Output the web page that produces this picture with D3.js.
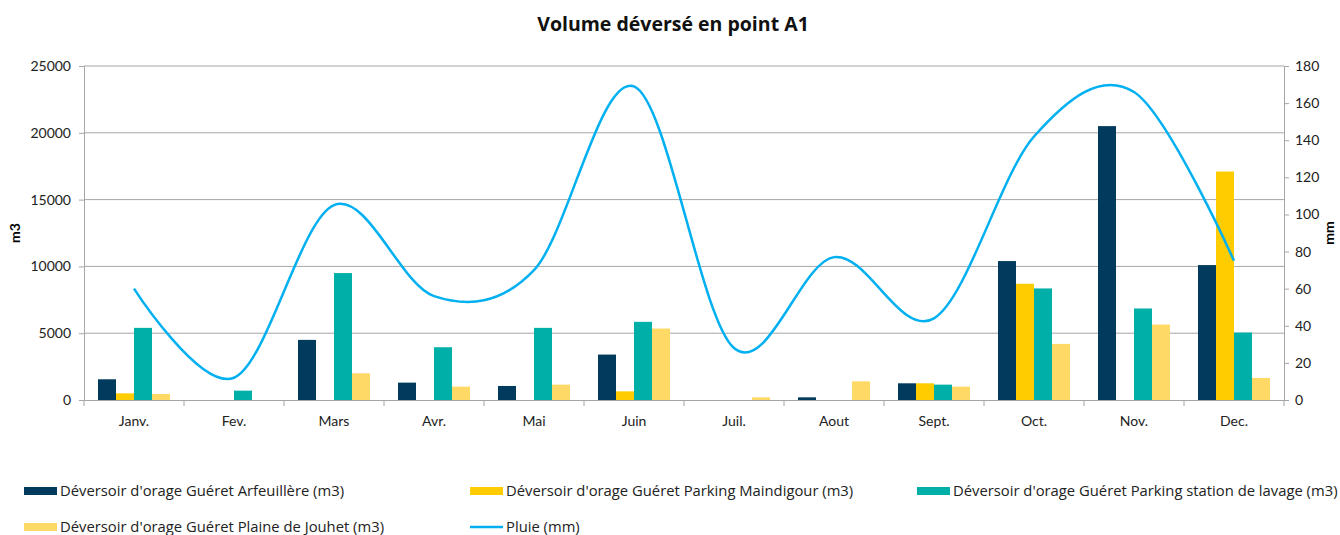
<!DOCTYPE html>
<html>
<head>
<meta charset="utf-8">
<script src="https://cdn.jsdelivr.net/npm/d3@7"></script>
<style>
  body { margin: 0; background: #fff; }
  svg { font-family: Lato, "Open Sans", sans-serif; }
</style>
</head>
<body>
<svg id="chart" width="1340" height="535"></svg>
<script>
const months = ['Janv.', 'Fev.', 'Mars', 'Avr.', 'Mai', 'Juin', 'Juil.', 'Aout', 'Sept.', 'Oct.', 'Nov.', 'Dec.']

const seriesNames = [
  "Déversoir d'orage Guéret Arfeuillère (m3)",
  "Déversoir d'orage Guéret Parking Maindigour (m3)",
  "Déversoir d'orage Guéret Parking station de lavage (m3)",
  "Déversoir d'orage Guéret Plaine de Jouhet (m3)",
]
const rainName = 'Pluie (mm)'

const arfeuillere = [1550, 0, 4500, 1300, 1050, 3400, 0, 200, 1250, 10400, 20500, 10100]
const maindigour = [500, 0, 0, 0, 0, 650, 0, 0, 1250, 8700, 0, 17100]
const stationLavage = [5400, 700, 9500, 3950, 5400, 5850, 0, 0, 1150, 8350, 6850, 5050]
const plaineJouhet = [450, 0, 2000, 1000, 1150, 5350, 200, 1400, 1000, 4200, 5650, 1650]
const pluie = [60, 12, 105, 56, 70, 169, 28, 77, 44, 142, 166, 75]

const leftTicks = [0, 5000, 10000, 15000, 20000, 25000]
const rightTicks = [0, 20, 40, 60, 80, 100, 120, 140, 160, 180]

const colors = ['#003a5c', '#ffcc00', '#00b0a8', '#ffd966']
const rainColor = '#00b0f0'

const volumes = [arfeuillere, maindigour, stationLavage, plaineJouhet]

const svg = d3.select('#chart')
const plotLeft = 84, plotRight = 1284, plotTop = 66, plotBottom = 400

const x = d3.scaleBand().domain(months).range([plotLeft, plotRight])
const xs = d3.scaleBand().domain(d3.range(4)).range([14, 86])
const y = d3.scaleLinear().domain([0, 25000]).range([plotBottom, plotTop])
const y2 = d3.scaleLinear().domain([0, 180]).range([plotBottom, plotTop])

// title
svg.append('text')
  .attr('x', 673).attr('y', 31)
  .attr('text-anchor', 'middle')
  .attr('font-family', '"Open Sans", sans-serif')
  .attr('font-size', 19.5).attr('font-weight', 'bold')
  .attr('fill', '#111')
  .text('Volume déversé en point A1')

// gridlines
svg.append('g')
  .selectAll('line')
  .data(leftTicks.slice(1))
  .join('line')
  .attr('x1', plotLeft).attr('x2', plotRight)
  .attr('y1', d => y(d)).attr('y2', d => y(d))
  .attr('stroke', '#a6a6a6')

// left axis
const yAxis = svg.append('g')
  .attr('transform', `translate(${plotLeft},0)`)
  .call(d3.axisLeft(y).tickValues(leftTicks).tickSize(5).tickPadding(8).tickFormat(d3.format('d')))
yAxis.selectAll('path, line').attr('stroke', '#a6a6a6')
yAxis.selectAll('text').attr('font-size', 14).attr('fill', '#222').attr('font-family', 'Lato, sans-serif')

// right axis
const y2Axis = svg.append('g')
  .attr('transform', `translate(${plotRight},0)`)
  .call(d3.axisRight(y2).tickValues(rightTicks).tickSize(5).tickPadding(6))
y2Axis.selectAll('path, line').attr('stroke', '#a6a6a6')
y2Axis.selectAll('text').attr('font-size', 14).attr('fill', '#222').attr('font-family', 'Lato, sans-serif')

// bars
svg.append('g')
  .selectAll('g')
  .data(volumes)
  .join('g')
  .attr('fill', (d, i) => colors[i])
  .each(function (values, i) {
    d3.select(this).selectAll('rect')
      .data(values)
      .join('rect')
      .attr('x', (d, j) => x(months[j]) + xs(i))
      .attr('width', xs.bandwidth())
      .attr('y', d => y(d))
      .attr('height', d => plotBottom - y(d))
  })

// x axis
const xAxis = svg.append('g')
  .attr('transform', `translate(0,${plotBottom})`)
  .call(d3.axisBottom(x).tickSize(0).tickPadding(16))
xAxis.select('path').attr('stroke', '#a6a6a6')
xAxis.selectAll('text').attr('font-size', 14).attr('fill', '#222').attr('font-family', 'Lato, sans-serif')
xAxis.selectAll('line.sep')
  .data(d3.range(months.length + 1))
  .join('line')
  .attr('class', 'sep')
  .attr('x1', i => plotLeft + i * x.step()).attr('x2', i => plotLeft + i * x.step())
  .attr('y1', 0).attr('y2', 6)
  .attr('stroke', '#a6a6a6')

// rain line
const line = d3.line()
  .x((d, i) => x(months[i]) + x.bandwidth() / 2)
  .y(d => y2(d))
  .curve(d3.curveCatmullRom.alpha(0))

svg.append('path')
  .datum(pluie)
  .attr('d', line)
  .attr('fill', 'none')
  .attr('stroke', rainColor)
  .attr('stroke-width', 2.5)

// axis titles
svg.append('text')
  .attr('transform', `translate(20,${(plotTop + plotBottom) / 2}) rotate(-90)`)
  .attr('text-anchor', 'middle')
  .attr('font-size', 14).attr('font-weight', 'bold')
  .text('m3')

svg.append('text')
  .attr('transform', `translate(1334,${(plotTop + plotBottom) / 2}) rotate(-90)`)
  .attr('text-anchor', 'middle')
  .attr('font-size', 14).attr('font-weight', 'bold')
  .text('mm')

// legend
const legendItems = seriesNames.map((name, i) => ({ name, color: colors[i], type: 'bar' }))
  .concat([{ name: rainName, color: rainColor, type: 'line' }])
const legendX = [24, 470, 917]

const legend = svg.append('g')
  .selectAll('g')
  .data(legendItems)
  .join('g')
  .attr('transform', (d, i) => `translate(${legendX[i % 3]},${i < 3 ? 491 : 527})`)

legend.append('rect')
  .attr('x', 0)
  .attr('y', d => d.type === 'bar' ? -4 : -1.25)
  .attr('width', 33)
  .attr('height', d => d.type === 'bar' ? 8 : 2.5)
  .attr('fill', d => d.color)

legend.append('text')
  .attr('x', 36).attr('y', 5)
  .attr('font-family', '"Open Sans", sans-serif')
  .attr('font-size', 14.8)
  .attr('fill', '#222')
  .text(d => d.name)
</script>
</body>
</html>
